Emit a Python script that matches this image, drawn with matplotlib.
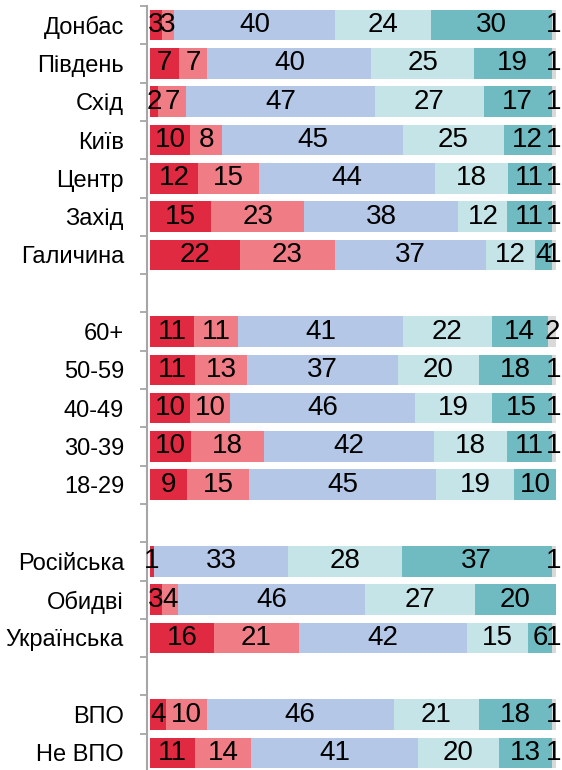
import matplotlib.pyplot as plt
import numpy as np

# rows top to bottom; None marks an empty gap row
categories = ['Донбас', 'Південь', 'Схід', 'Київ', 'Центр', 'Захід', 'Галичина', None,
              '60+', '50-59', '40-49', '30-39', '18-29', None,
              'Російська', 'Обидві', 'Українська', None,
              'ВПО', 'Не ВПО']

s1 = [3, 7, 2, 10, 12, 15, 22, 0, 11, 11, 10, 10, 9, 0, 1, 3, 16, 0, 4, 11]
s2 = [3, 7, 7, 8, 15, 23, 23, 0, 11, 13, 10, 18, 15, 0, 0, 4, 21, 0, 10, 14]
s3 = [40, 40, 47, 45, 44, 38, 37, 0, 41, 37, 46, 42, 45, 0, 33, 46, 42, 0, 46, 41]
s4 = [24, 25, 27, 25, 18, 12, 12, 0, 22, 20, 19, 18, 19, 0, 28, 27, 15, 0, 21, 20]
s5 = [30, 19, 17, 12, 11, 11, 4, 0, 14, 18, 15, 11, 10, 0, 37, 20, 6, 0, 18, 13]
s6 = [1, 1, 1, 1, 1, 1, 1, 0, 2, 1, 1, 1, 0, 0, 1, 0, 1, 0, 1, 1]

series = [s1, s2, s3, s4, s5, s6]
colors = ['#E02A42', '#F07D85', '#B4C7E7', '#C5E4E7', '#6FBBC1', '#D9D9D9']

fig = plt.figure(figsize=(5.62, 7.70), dpi=100)
ax = fig.add_axes([147 / 562, -2 / 770, 1 - 147 / 562, 766 / 770])

n = len(categories)
y = np.arange(n)
data = np.array(series, dtype=float)
# 100% stacked: each row is scaled to fill the full width
totals = data.sum(axis=0)
totals[totals == 0] = 1
widths = data / totals * 100

left = np.zeros(n)
num_font = ['Liberation Sans Narrow', 'Liberation Sans', 'DejaVu Sans']

for vals, w, col in zip(data, widths, colors):
    ax.barh(y, w, left=left, height=0.8, color=col, edgecolor='none')
    for yi in range(n):
        if vals[yi] > 0:
            ax.text(left[yi] + w[yi] / 2, yi, f'{int(vals[yi])}', ha='center',
                    va='center', fontsize=20, family=num_font, color='black')
    left += w

ax.set_xlim(-0.74, 101.5)
ax.set_ylim(n - 0.5, -0.5)

ax.set_yticks(y)
ax.set_yticklabels([c if c else '' for c in categories],
                   fontsize=17, family=['Liberation Sans', 'DejaVu Sans'])
ax.tick_params(axis='y', which='major', length=0, pad=16.5)
ax.set_yticks(np.arange(-0.5, n, 1.0), minor=True)
ax.tick_params(axis='y', which='minor', length=5, width=1.3, color='#A6A6A6')
ax.set_xticks([])

for side in ['top', 'right', 'bottom']:
    ax.spines[side].set_visible(False)
ax.spines['left'].set_color('#A6A6A6')
ax.spines['left'].set_linewidth(1.5)

fig.savefig('out.png', dpi=100)
